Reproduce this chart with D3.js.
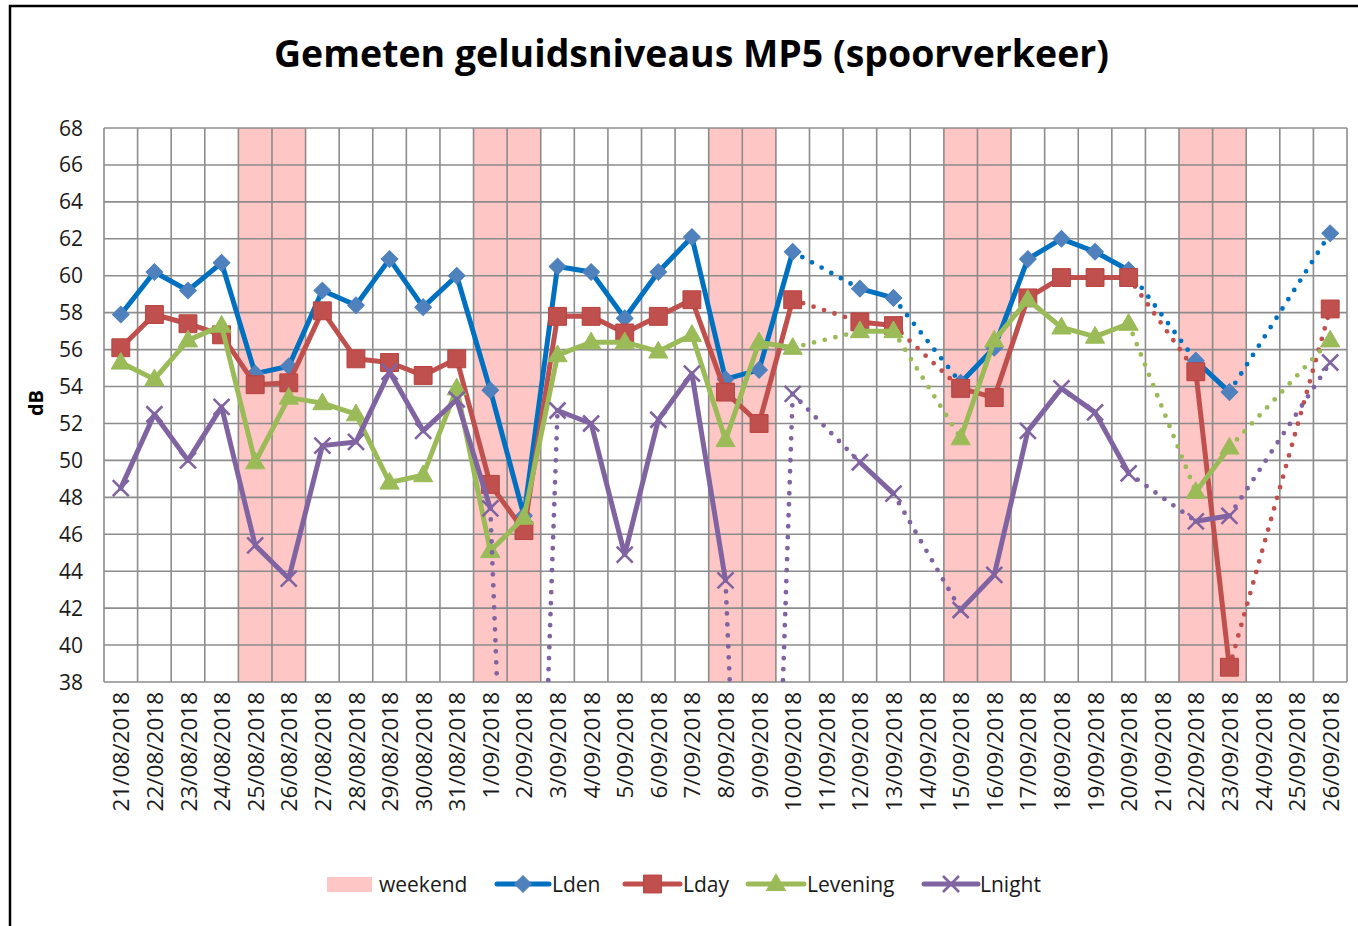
<!DOCTYPE html>
<html><head><meta charset="utf-8">
<script src="https://cdn.jsdelivr.net/npm/d3@7"></script>
<style>
body{margin:0;background:#fff;}
svg{display:block;font-family:'Open Sans',sans-serif;}
</style>
</head><body>
<svg id="chart" width="1358" height="926"></svg>
<script>
// ---------- DATA ----------
const dates = ["21/08/2018","22/08/2018","23/08/2018","24/08/2018","25/08/2018","26/08/2018","27/08/2018","28/08/2018","29/08/2018","30/08/2018","31/08/2018","1/09/2018","2/09/2018","3/09/2018","4/09/2018","5/09/2018","6/09/2018","7/09/2018","8/09/2018","9/09/2018","10/09/2018","11/09/2018","12/09/2018","13/09/2018","14/09/2018","15/09/2018","16/09/2018","17/09/2018","18/09/2018","19/09/2018","20/09/2018","21/09/2018","22/09/2018","23/09/2018","24/09/2018","25/09/2018","26/09/2018"];
const weekend = [0,0,0,0,68,68,0,0,0,0,0,68,68,0,0,0,0,0,68,68,0,0,0,0,0,68,68,0,0,0,0,0,68,68,0,0,0];
const lden     = [57.9,60.2,59.2,60.7,54.7,55.1,59.2,58.4,60.9,58.3,60.0,53.8,47.0,60.5,60.2,57.7,60.2,62.1,54.4,54.9,61.3,null,59.3,58.8,null,54.2,56.1,60.9,62.0,61.3,60.3,null,55.4,53.7,null,null,62.3];
const lday     = [56.1,57.9,57.4,56.8,54.1,54.2,58.1,55.5,55.3,54.6,55.5,48.7,46.2,57.8,57.8,56.9,57.8,58.7,53.7,52.0,58.7,null,57.5,57.3,null,53.9,53.4,58.8,59.9,59.9,59.9,null,54.8,38.8,null,null,58.2];
const levening = [55.3,54.4,56.5,57.3,49.9,53.4,53.1,52.5,48.8,49.2,53.9,45.1,46.9,55.7,56.4,56.4,55.9,56.8,51.1,56.4,56.1,null,57.0,57.0,null,51.2,56.5,58.7,57.2,56.7,57.4,null,48.3,50.7,null,null,56.5];
const lnight   = [48.5,52.5,50.0,52.9,45.4,43.6,50.8,51.0,54.8,51.6,53.3,47.4,0,52.7,52.0,44.9,52.2,54.7,43.5,0,53.6,null,49.9,48.2,null,41.9,43.8,51.6,53.9,52.6,49.3,null,46.7,47.0,null,null,55.3];
const yTicks = [38,40,42,44,46,48,50,52,54,56,58,60,62,64,66,68];
const seriesNames = ["Lden","Lday","Levening","Lnight"];
const title = "Gemeten geluidsniveaus MP5 (spoorverkeer)";
const yTitle = "dB";

// ---------- STYLE ----------
const W = 1358, H = 926;
const plot = {left:104, right:1347, top:128, bottom:682};
const series = [
  {name:"Lden", values:lden, line:"#0070C0", fill:"#4F81BD", shape:"diamond"},
  {name:"Lday", values:lday, line:"#C0504D", fill:"#C0504D", shape:"square"},
  {name:"Levening", values:levening, line:"#9BBB59", fill:"#9BBB59", shape:"triangle"},
  {name:"Lnight", values:lnight, line:"#8064A2", fill:"#8064A2", shape:"x"}
];

const svg = d3.select("#chart");
svg.append("rect").attr("width",W).attr("height",H).attr("fill","#fff");
// outer frame (only left/top visible)
svg.append("rect").attr("x",10).attr("y",6).attr("width",1400).attr("height",1000)
   .attr("fill","none").attr("stroke","#000").attr("stroke-width",2.5);

const x = d3.scaleBand().domain(dates).range([plot.left, plot.right]).padding(0);
const y = d3.scaleLinear().domain([38,68]).range([plot.bottom, plot.top]);
const cx = d => x(d) + x.bandwidth()/2;

// title
svg.append("text").attr("x",(plot.left+plot.right)/2 - 34).attr("y",67)
  .attr("text-anchor","middle").attr("font-size",38).attr("font-weight",700)
  .attr("fill","#000").attr("textLength",835).attr("lengthAdjust","spacingAndGlyphs")
  .text(title);

// weekend bars
svg.append("g").selectAll("rect").data(dates.map((d,i)=>({d,v:weekend[i]})).filter(o=>o.v>38))
  .join("rect")
  .attr("x",o=>x(o.d)).attr("width",x.bandwidth())
  .attr("y",o=>y(o.v)).attr("height",o=>y(38)-y(o.v))
  .attr("fill","#FFC6C6");

// grid
const grid = svg.append("g").attr("stroke","#878787").attr("stroke-width",1.6).attr("opacity",0.95);
grid.selectAll("line.h").data(yTicks).join("line").attr("class","h")
  .attr("x1",plot.left).attr("x2",plot.right).attr("y1",d=>y(d)).attr("y2",d=>y(d));
const bounds = dates.map(d=>x(d)).concat([plot.right]);
grid.selectAll("line.v").data(bounds).join("line").attr("class","v")
  .attr("x1",d=>d).attr("x2",d=>d).attr("y1",plot.top).attr("y2",plot.bottom);

// y axis labels
svg.append("g").selectAll("text").data(yTicks).join("text")
  .attr("x",83).attr("y",d=>y(d)).attr("dy","0.36em").attr("text-anchor","end")
  .attr("font-size",21).attr("fill","#1a1a1a").text(d=>d);
svg.append("text").attr("transform","translate(36,403) rotate(-90)")
  .attr("text-anchor","middle").attr("dy","0.35em").attr("font-size",20).attr("font-weight",700)
  .attr("fill","#000").text(yTitle);

// x axis labels
svg.append("g").selectAll("text").data(dates).join("text")
  .attr("transform",d=>`translate(${cx(d)},692) rotate(-90)`)
  .attr("text-anchor","end").attr("dy","0.38em")
  .attr("font-size",22.5).attr("fill","#1a1a1a").text(d=>d);

// clip
svg.append("clipPath").attr("id","clip").append("rect")
  .attr("x",plot.left).attr("y",plot.top).attr("width",plot.right-plot.left).attr("height",plot.bottom-plot.top);

const lineGen = d3.line().x(p=>cx(dates[p.i])).y(p=>y(p.v));

function marker(g, shape, color, fill, px, py){
  if(shape==="diamond"){
    g.append("path").attr("d",d3.symbol(d3.symbolSquare,140)())
     .attr("transform",`translate(${px},${py}) rotate(45)`).attr("fill",fill).attr("stroke",fill).attr("stroke-width",1);
  } else if(shape==="square"){
    g.append("path").attr("d",d3.symbol(d3.symbolSquare,320)())
     .attr("transform",`translate(${px},${py})`).attr("fill",fill).attr("stroke","#B8433F").attr("stroke-width",1);
  } else if(shape==="triangle"){
    g.append("path").attr("d",d3.symbol(d3.symbolTriangle,160)())
     .attr("transform",`translate(${px},${py+1})`).attr("fill",fill).attr("stroke",fill).attr("stroke-width",1);
  } else {
    const s=8;
    g.append("path").attr("d",`M${-s},${-s}L${s},${s}M${-s},${s}L${s},${-s}`)
     .attr("transform",`translate(${px},${py})`).attr("fill","none").attr("stroke",color).attr("stroke-width",2.6);
  }
}

series.forEach(s=>{
  const g = svg.append("g");
  const pts = s.values.map((v,i)=>({i,v})).filter(p=>p.v!=null);
  const solid=[], dotted=[];
  let run=[pts[0]];
  for(let k=1;k<pts.length;k++){
    const a=pts[k-1], b=pts[k];
    const dot = (b.i-a.i>1) || a.v<38 || b.v<38;
    if(dot){ if(run.length>1) solid.push(run); dotted.push([a,b]); run=[b]; }
    else run.push(b);
  }
  if(run.length>1) solid.push(run);
  const lg = g.append("g").attr("clip-path","url(#clip)");
  lg.selectAll("path.d").data(dotted).join("path").attr("class","d")
    .attr("d",lineGen).attr("fill","none").attr("stroke",s.line)
    .attr("stroke-width",4.8).attr("stroke-linecap","round").attr("stroke-dasharray","0 11");
  lg.selectAll("path.s").data(solid).join("path").attr("class","s")
    .attr("d",lineGen).attr("fill","none").attr("stroke",s.line)
    .attr("stroke-width",5).attr("stroke-linejoin","round").attr("stroke-linecap","round");
  pts.filter(p=>p.v>=38).forEach(p=>marker(g,s.shape,s.line,s.fill,cx(dates[p.i]),y(p.v)));
});

// legend
const lgd = svg.append("g").attr("font-size",21).attr("fill","#1a1a1a");
const ly = 884;
lgd.append("rect").attr("x",327).attr("y",ly-7).attr("width",45).attr("height",15).attr("fill","#FFC6C6");
lgd.append("text").attr("x",379).attr("y",ly).attr("dy","0.36em").text("weekend");
const legItems = [{x0:497,x1:549,tx:552},{x0:625,x1:680,tx:683},{x0:748,x1:804,tx:807},{x0:924,x1:978,tx:980}];
series.forEach((s,k)=>{
  const it = legItems[k];
  lgd.append("line").attr("x1",it.x0).attr("x2",it.x1).attr("y1",ly).attr("y2",ly)
    .attr("stroke",s.line).attr("stroke-width",5).attr("stroke-linecap","round");
  marker(lgd,s.shape,s.line,s.fill,(it.x0+it.x1)/2,ly);
  lgd.append("text").attr("x",it.tx).attr("y",ly).attr("dy","0.36em").text(seriesNames[k]);
});
</script>
</body></html>
